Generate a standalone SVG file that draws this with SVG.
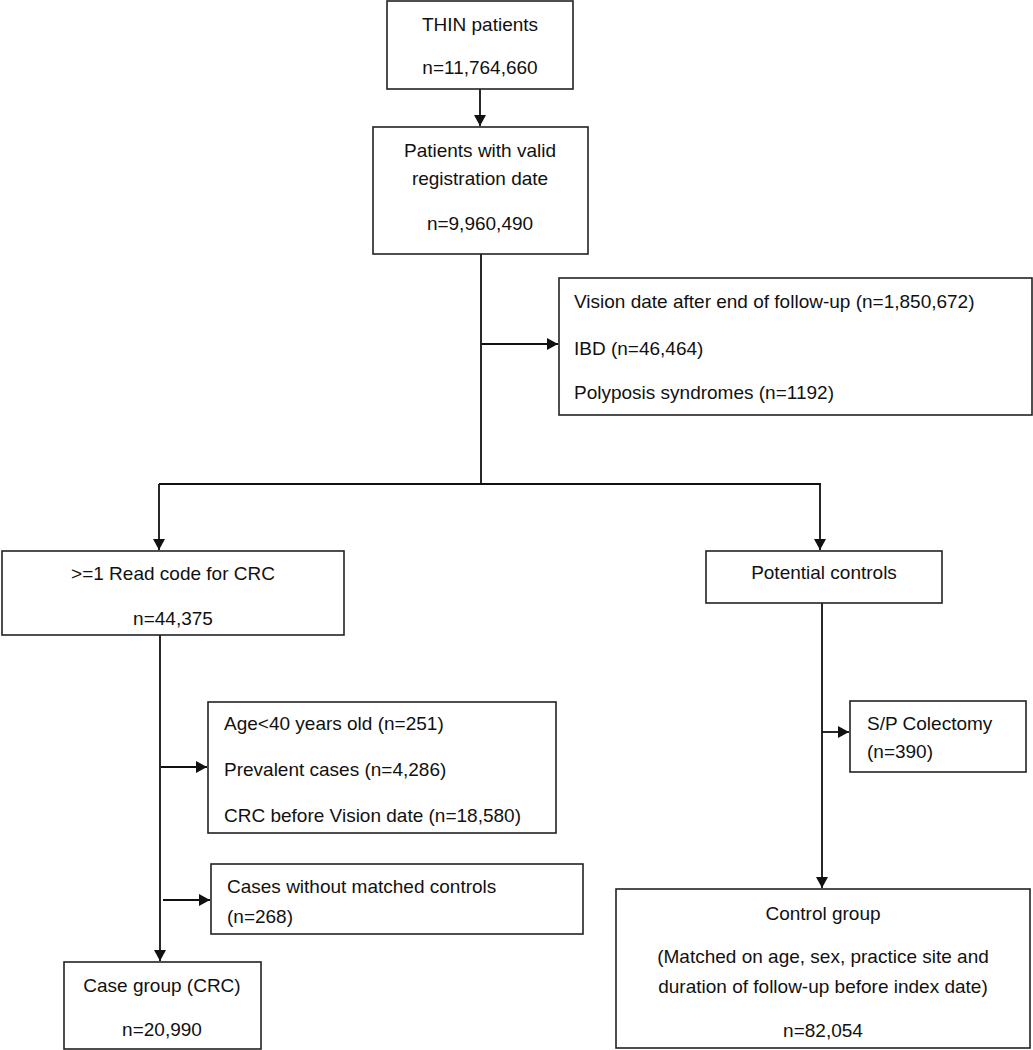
<svg xmlns="http://www.w3.org/2000/svg" width="1033" height="1050" viewBox="0 0 1033 1050">
<style>
.box{fill:#fff;stroke:#222;stroke-width:1.6}
.t{font-family:"Liberation Sans",Arial,sans-serif;font-size:19px;fill:#111}
.c{text-anchor:middle}
.ln{fill:none;stroke:#111;stroke-width:1.8}
</style>
<defs>
<marker id="ah" markerUnits="userSpaceOnUse" markerWidth="12" markerHeight="12" refX="11" refY="6" orient="auto">
<path d="M0,0 L11,6 L0,12 Z" fill="#111"/>
</marker>
</defs>
<rect width="1033" height="1050" fill="#fff"/>
<g id="connectors">
<path class="ln" d="M480 89 V126" marker-end="url(#ah)"/>
<path class="ln" d="M481 254 V484"/>
<path class="ln" d="M159 484 H821"/>
<path class="ln" d="M159 484 V550" marker-end="url(#ah)"/>
<path class="ln" d="M820 484 V550" marker-end="url(#ah)"/>
<path class="ln" d="M481 344 H558" marker-end="url(#ah)"/>
<path class="ln" d="M160 635 V961" marker-end="url(#ah)"/>
<path class="ln" d="M161 767 H207" marker-end="url(#ah)"/>
<path class="ln" d="M163 900 H210" marker-end="url(#ah)"/>
<path class="ln" d="M822 603 V888" marker-end="url(#ah)"/>
<path class="ln" d="M822 732 H849" marker-end="url(#ah)"/>
</g>
<g id="thin">
<rect class="box" x="387" y="1" width="186" height="88"/>
<text class="t c" x="480" y="31">THIN patients</text>
<text class="t c" x="480" y="74">n=11,764,660</text>
</g>
<g id="valid">
<rect class="box" x="373" y="127" width="215" height="127"/>
<text class="t c" x="480" y="157">Patients with valid</text>
<text class="t c" x="480" y="185">registration date</text>
<text class="t c" x="480" y="230">n=9,960,490</text>
</g>
<g id="excl1">
<rect class="box" x="559" y="278" width="473" height="137"/>
<text class="t" x="574" y="308">Vision date after end of follow-up (n=1,850,672)</text>
<text class="t" x="574" y="355">IBD (n=46,464)</text>
<text class="t" x="574" y="399">Polyposis syndromes (n=1192)</text>
</g>
<g id="crc">
<rect class="box" x="2" y="551" width="342" height="84"/>
<text class="t c" x="173" y="580">&gt;=1 Read code for CRC</text>
<text class="t c" x="173" y="625">n=44,375</text>
</g>
<g id="potential">
<rect class="box" x="706" y="551" width="236" height="52"/>
<text class="t c" x="824" y="579">Potential controls</text>
</g>
<g id="excl2">
<rect class="box" x="208" y="702" width="348" height="131"/>
<text class="t" x="224" y="730">Age&lt;40 years old (n=251)</text>
<text class="t" x="224" y="776">Prevalent cases (n=4,286)</text>
<text class="t" x="224" y="822">CRC before Vision date (n=18,580)</text>
</g>
<g id="excl3">
<rect class="box" x="211" y="864" width="372" height="70"/>
<text class="t" x="227" y="893">Cases without matched controls</text>
<text class="t" x="227" y="923">(n=268)</text>
</g>
<g id="case">
<rect class="box" x="64" y="962" width="197" height="87"/>
<text class="t c" x="162" y="992">Case group (CRC)</text>
<text class="t c" x="162" y="1036">n=20,990</text>
</g>
<g id="colectomy">
<rect class="box" x="850" y="701" width="176" height="71"/>
<text class="t" x="867" y="730">S/P Colectomy</text>
<text class="t" x="867" y="758">(n=390)</text>
</g>
<g id="control">
<rect class="box" x="616" y="889" width="414" height="159"/>
<text class="t c" x="823" y="920">Control group</text>
<text class="t c" x="823" y="963">(Matched on age, sex, practice site and</text>
<text class="t c" x="823" y="993">duration of follow-up before index date)</text>
<text class="t c" x="823" y="1037">n=82,054</text>
</g>
</svg>
